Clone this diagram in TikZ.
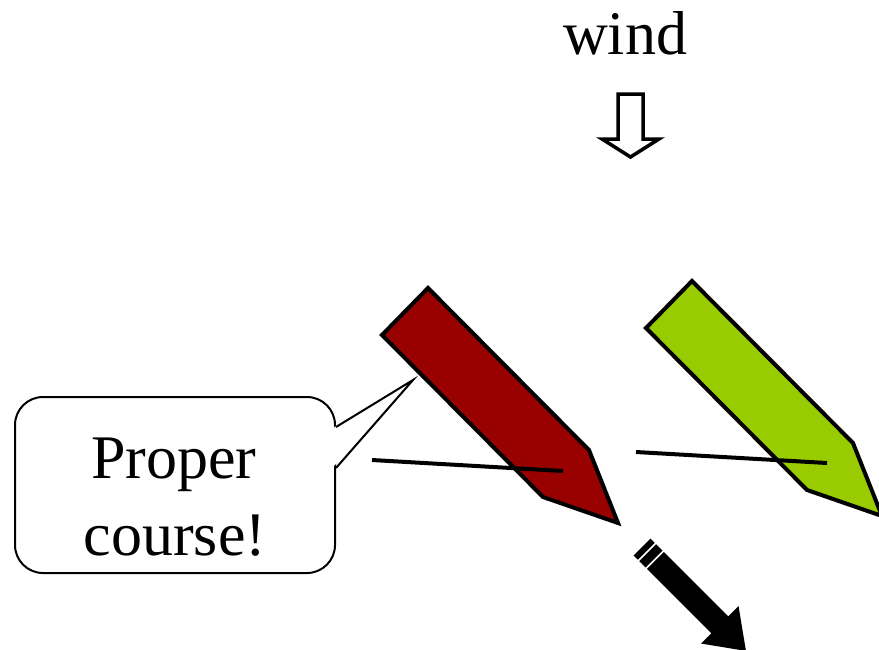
\documentclass[tikz,border=0pt]{standalone}
\usepackage{fontspec}
\setmainfont{Liberation Serif}
\definecolor{boatred}{HTML}{990000}
\definecolor{boatgreen}{HTML}{99CC00}
\tikzset{
  bigtext/.style={font=\fontsize{62}{74}\selectfont, inner sep=0pt, anchor=base},
  hull/.style={draw=black, line width=4pt, line join=miter},
  tiller/.style={draw=black, line width=4pt},
  bubble/.style={draw=black, line width=2pt, rounded corners=28pt, fill=white,
    minimum width=320pt, minimum height=176pt, inner sep=0pt},
  windarrow/.style={draw=black, line width=3.5pt, fill=white, line join=miter}
}
\begin{document}
\begin{tikzpicture}[x=1pt, y=-1pt]
\useasboundingbox (0,0) rectangle (879,649);

% wind label and arrow
\node[bigtext] (wind) at (625,54) {wind};
\draw[windarrow] (618,94) -- (643,94) -- (643,139) -- (659,139) -- (630.5,157)
  -- (602,139) -- (618,139) -- cycle;

% red boat
\draw[hull, fill=boatred] (428,288) -- (589,450) -- (618,523) -- (543,497) -- (382,335) -- cycle;
\coordinate (r1) at (372,460);
\coordinate (r2) at (563,471);
\draw[tiller] (r1) -- (r2);

% green boat
\draw[hull, fill=boatgreen] (692,281) -- (853,443) -- (882,516) -- (807,490) -- (646,328) -- cycle;
\coordinate (g1) at (636,452);
\coordinate (g2) at (827,463);
\draw[tiller] (g1) -- (g2);

% callout
\node[bubble] (callout) at (175,485) {};
\coordinate (tip) at (413,380);
\fill[white] (333,428) -- (tip) -- (333,467) -- cycle;
\draw[line width=2pt, line join=miter] (callout.east |- 0,427) -- (tip) -- (callout.east |- 0,468);
\node[bigtext] (line1) at (174,478) {Proper};
\node[bigtext] (line2) at (175,555) {course!};

% black striped arrow
\begin{scope}[shift={(642,547)}, rotate=-45]
  \fill[black] (0,-12) rectangle (6,12);
  \fill[black] (8,-12) rectangle (17,12);
  \fill[black] (19,-12) -- (110,-12) -- (110,-26.5) -- (147,0) -- (110,26.5) -- (110,12) -- (19,12) -- cycle;
\end{scope}
\end{tikzpicture}
\end{document}
